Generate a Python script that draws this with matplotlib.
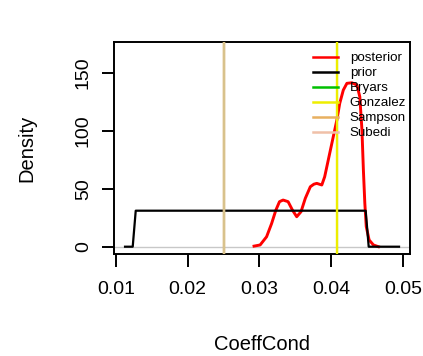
import matplotlib
matplotlib.use('Agg')
from matplotlib import pyplot as plt

plt.rcParams['font.family'] = ['Liberation Sans', 'DejaVu Sans']

# posterior density
post_x = [0.02925, 0.0301, 0.0310, 0.0317, 0.0323, 0.0328, 0.0333, 0.0340,
          0.0346, 0.0352, 0.0358, 0.0364, 0.0371, 0.0376, 0.0380, 0.0387,
          0.0391, 0.0397, 0.0403, 0.0408, 0.0412, 0.0417, 0.0422, 0.0429,
          0.0436, 0.0440, 0.0443, 0.0445, 0.0447, 0.0449, 0.0453, 0.0459,
          0.0466]
post_y = [0.5, 1.5, 8.6, 20.0, 31.7, 38.9, 40.3, 38.9,
          31.7, 25.9, 30.2, 41.8, 51.8, 54.0, 54.7, 53.3,
          60.4, 77.7, 95.0, 109.4, 123.8, 135.3, 141.1, 141.6,
          139.6, 129.5, 100.8, 66.2, 37.5, 17.3, 5.8, 1.5,
          0.0]

# prior density
prior_x = [0.01126, 0.01233, 0.01275, 0.04482, 0.04524, 0.04947]
prior_y = [0.0, 0.0, 31.1, 31.1, 0.0, 0.0]

# literature values
ref_names = ['Bryars', 'Gonzalez', 'Sampson', 'Subedi']
ref_values = [0.0408, 0.0408, 0.025, 0.025]
ref_colors = ['#00C000', '#EEEE00', '#E8B060', '#F0C0A8']
line_colors = ['#00C000', '#EEEE00', '#E8B060', '#D8C28C']

fig = plt.figure(figsize=(4.23, 3.56), dpi=100)
ax = fig.add_axes([114 / 423, 1 - 254 / 356, 296 / 423, 212 / 356])

ax.axhline(0, color='#C8C8C8', lw=1, zorder=1)
ax.plot(post_x, post_y, color='#FF0000', lw=2.1, label='posterior', zorder=2)
ax.plot(prior_x, prior_y, color='black', lw=1.6, label='prior', zorder=3)
for name, v, c in zip(ref_names, ref_values, line_colors):
    # Bryars sits under Gonzalez, keep it thin so it doesn't bleed out
    ax.axvline(v, color=c, lw=0.8 if name == 'Bryars' else 1.7,
               label=name, zorder=4)

ax.set_xlim(0.00972, 0.0510)
ax.set_ylim(-6.3, 176.8)
ax.set_xticks([0.01, 0.02, 0.03, 0.04, 0.05])
ax.set_xticklabels(['0.01', '0.02', '0.03', '0.04', '0.05'])
ax.set_yticks([0, 50, 100, 150])
ax.tick_params(axis='both', direction='out', length=9, width=1.4, labelsize=14)
ax.tick_params(axis='x', pad=10.5)
ax.tick_params(axis='y', pad=7, labelrotation=90)
for lab in ax.get_yticklabels():
    lab.set_va('center')
for s in ax.spines.values():
    s.set_linewidth(1.4)

ax.set_xlabel('CoeffCond', fontsize=14.5, va='center')
ax.xaxis.set_label_coords(0.5, -(344 - 254) / 212)
ax.set_ylabel('Density', fontsize=14.5, va='center')
ax.yaxis.set_label_coords((27 - 114) / 296, 0.5)

leg = ax.legend(loc='upper left', bbox_to_anchor=(313 / 423, 1 - 52 / 356),
                bbox_transform=fig.transFigure, frameon=False, fontsize=9.6,
                borderpad=0, borderaxespad=0, handlelength=1.85,
                handletextpad=0.9, labelspacing=0.2)
for h, c in zip(leg.get_lines()[2:], ref_colors):
    h.set_color(c)
for h in leg.get_lines():
    h.set_linewidth(1.8)

plt.savefig('out.png', dpi=100)
